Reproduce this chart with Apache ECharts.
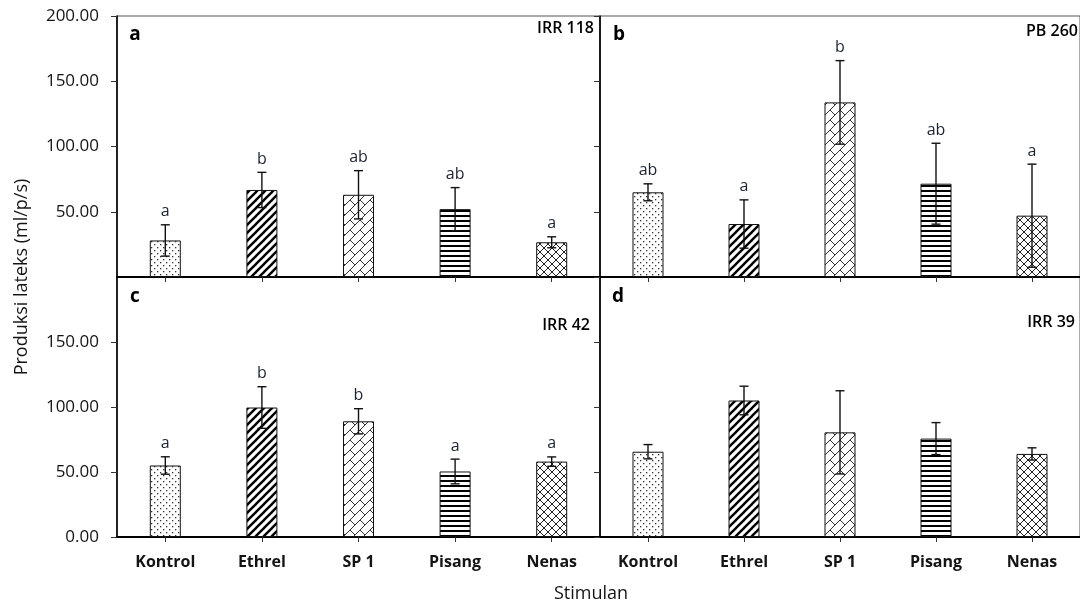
<!DOCTYPE html>
<html><head><meta charset="utf-8">
<script src="https://cdn.jsdelivr.net/npm/echarts@6/dist/echarts.min.js"></script>
<style>html,body{margin:0;padding:0;background:#fff}#chart{width:1080px;height:606px}</style>
</head><body><div id="chart"></div>
<script>
// ---------- data ----------
const categories = ['Kontrol', 'Ethrel', 'SP 1', 'Pisang', 'Nenas'];
const yTicks = [0, 50, 100, 150, 200];
const panelTags = ['a', 'b', 'c', 'd'];
const clones = ['IRR 118', 'PB 260', 'IRR 42', 'IRR 39'];

const meanA = [28.0, 66.7, 63.0, 52.0, 26.6];
const errA = [12.0, 13.5, 18.5, 16.5, 4.2];
const letterA = ['a', 'b', 'ab', 'ab', 'a'];

const meanB = [64.9, 40.6, 133.8, 71.5, 47.0];
const errB = [6.5, 18.5, 32.0, 31.0, 39.5];
const letterB = ['ab', 'a', 'b', 'ab', 'a'];

const meanC = [55.0, 99.6, 89.0, 50.4, 58.0];
const errC = [6.7, 16.0, 9.7, 9.5, 3.6];
const letterC = ['a', 'b', 'b', 'a', 'a'];

const meanD = [65.6, 105.0, 80.5, 75.7, 63.9];
const errD = [5.5, 11.0, 32.0, 12.3, 4.7];
const letterD = ['', '', '', '', ''];

// ---------- fill patterns ----------
function tile(w, h, draw) {
  const c = document.createElement('canvas');
  c.width = w; c.height = h;
  const ctx = c.getContext('2d');
  ctx.fillStyle = '#fff'; ctx.fillRect(0, 0, w, h);
  draw(ctx, w, h);
  return { image: c, repeat: 'repeat' };
}
const patDots = tile(6, 6, (ctx) => {
  ctx.fillStyle = '#333';
  ctx.fillRect(1, 1, 1.3, 1.3); ctx.fillRect(4, 4, 1.3, 1.3);
});
const patDiag = tile(8, 8, (ctx) => {
  ctx.strokeStyle = '#000'; ctx.lineWidth = 2.4;
  for (let x0 = -8; x0 <= 8; x0 += 8) {
    ctx.beginPath(); ctx.moveTo(x0 - 1, 9); ctx.lineTo(x0 + 9, -1); ctx.stroke();
  }
});
const patBrick = tile(20, 20, (ctx) => {
  ctx.strokeStyle = '#333'; ctx.lineWidth = 1;
  const s = 10;
  for (let c = -20; c <= 60; c += s) {
    ctx.beginPath(); ctx.moveTo(c + 25, -25); ctx.lineTo(c - 25, 25); ctx.stroke();
  }
  for (let k = -4; k <= 8; k++) {
    for (let m = -4; m <= 4; m++) {
      const d = s * k + 2 * s * m;
      const c1 = s * k, c2 = s * k + s;
      ctx.beginPath();
      ctx.moveTo((c1 + d) / 2, (c1 - d) / 2);
      ctx.lineTo((c2 + d) / 2, (c2 - d) / 2);
      ctx.stroke();
    }
  }
});
const patHoriz = tile(4, 5, (ctx) => {
  ctx.fillStyle = '#000'; ctx.fillRect(0, 0, 4, 2);
});
const patCross = tile(8, 8, (ctx) => {
  ctx.strokeStyle = '#222'; ctx.lineWidth = 1;
  ctx.beginPath(); ctx.moveTo(-1, -1); ctx.lineTo(9, 9); ctx.stroke();
  ctx.beginPath(); ctx.moveTo(-1, 9); ctx.lineTo(9, -1); ctx.stroke();
});
const patterns = [patDots, patDiag, patBrick, patHoriz, patCross];

// ---------- layout ----------
const panels = [
  { mean: meanA, err: errA, letters: letterA, box: { left: 117, top: 16, width: 483, height: 261 }, yLabels: true, xLabels: false, hide: 'min' },
  { mean: meanB, err: errB, letters: letterB, box: { left: 600, top: 16, width: 482, height: 261 }, yLabels: false, xLabels: false },
  { mean: meanC, err: errC, letters: letterC, box: { left: 117, top: 277, width: 483, height: 260 }, yLabels: true, xLabels: true, hide: 'max' },
  { mean: meanD, err: errD, letters: letterD, box: { left: 600, top: 277, width: 482, height: 260 }, yLabels: false, xLabels: true }
];
const FONT = '"Open Sans", Lato, sans-serif';
const TXT = '#141414';

const option = { animation: false, backgroundColor: '#fff', grid: [], xAxis: [], yAxis: [], series: [], graphic: [] };

panels.forEach((p, gi) => {
  option.grid.push(Object.assign({ show: true, borderColor: '#555', borderWidth: 1, backgroundColor: 'transparent' }, p.box));
  option.xAxis.push({
    type: 'category', gridIndex: gi, data: categories,
    axisLine: { show: true, lineStyle: { color: '#000', width: 2 } },
    axisTick: { show: true, alignWithLabel: true, length: 5, lineStyle: { color: '#333', width: 1 } },
    axisLabel: { show: p.xLabels, margin: 17, fontFamily: FONT, fontSize: 16, fontWeight: 'bold', color: TXT },
    splitLine: { show: false }
  });
  option.yAxis.push({
    type: 'value', gridIndex: gi,
    min: yTicks[0], max: yTicks[yTicks.length - 1], interval: yTicks[1] - yTicks[0],
    axisLine: { show: true, lineStyle: { color: '#000', width: 1.6 } },
    axisTick: { show: true, length: 6, lineStyle: { color: '#333', width: 1 } },
    axisLabel: {
      show: p.yLabels, margin: 18, fontFamily: FONT, fontSize: 17, color: TXT,
      showMinLabel: p.hide !== 'min', showMaxLabel: p.hide !== 'max',
      formatter: (v) => v.toFixed(2)
    },
    splitLine: { show: false }
  });
  option.series.push({
    type: 'bar', xAxisIndex: gi, yAxisIndex: gi, barWidth: 31, z: 2,
    data: p.mean.map((v, i) => ({ value: v, itemStyle: { color: patterns[i], borderColor: '#111', borderWidth: 1 } }))
  });
  const letters = p.letters;
  option.series.push({
    type: 'custom', xAxisIndex: gi, yAxisIndex: gi, z: 5,
    encode: { x: 0, y: 1 },
    data: p.mean.map((v, i) => [i, v, p.err[i]]),
    renderItem: (params, api) => {
      const i = api.value(0), m = api.value(1), e = api.value(2);
      const top = api.coord([i, m + e]);
      const bot = api.coord([i, m - e]);
      const x = top[0], cap = 4.5;
      const st = { stroke: '#111', lineWidth: 1.4 };
      const children = [
        { type: 'line', shape: { x1: x, y1: top[1], x2: x, y2: bot[1] }, style: st },
        { type: 'line', shape: { x1: x - cap, y1: top[1], x2: x + cap, y2: top[1] }, style: st },
        { type: 'line', shape: { x1: x - cap, y1: bot[1], x2: x + cap, y2: bot[1] }, style: st }
      ];
      const L = letters[params.dataIndex];
      if (L) {
        children.push({ type: 'text', style: { text: L, x: x, y: top[1] - 13, align: 'center', verticalAlign: 'middle', fontFamily: FONT, fontSize: 16, fill: '#1b2230' } });
      }
      return { type: 'group', children };
    }
  });
});

// panel tags and clone names
const tagPos = [[135, 35], [619, 35], [135, 297], [618, 297]];
const clonePos = [[594, 28], [1078, 31], [590, 325], [1075, 322]];
panels.forEach((p, gi) => {
  option.graphic.push({ type: 'text', x: tagPos[gi][0], y: tagPos[gi][1], style: { text: panelTags[gi], align: 'center', verticalAlign: 'middle', fontFamily: FONT, fontSize: 19, fontWeight: 'bold', fill: '#000' }, z: 10 });
  option.graphic.push({ type: 'text', x: clonePos[gi][0], y: clonePos[gi][1], style: { text: clones[gi], align: 'right', verticalAlign: 'middle', fontFamily: FONT, fontSize: 16, fontWeight: 600, fill: '#000' }, z: 10 });
});
option.graphic.push({ type: 'text', x: 22, y: 277, rotation: Math.PI / 2, style: { text: 'Produksi lateks (ml/p/s)', align: 'center', verticalAlign: 'middle', fontFamily: FONT, fontSize: 18, fill: TXT } });
option.graphic.push({ type: 'text', x: 591, y: 594, style: { text: 'Stimulan', align: 'center', verticalAlign: 'middle', fontFamily: FONT, fontSize: 18, fill: TXT } });

const chart = echarts.init(document.getElementById('chart'), null, { renderer: 'canvas' });
chart.setOption(option);
</script>
</body></html>
